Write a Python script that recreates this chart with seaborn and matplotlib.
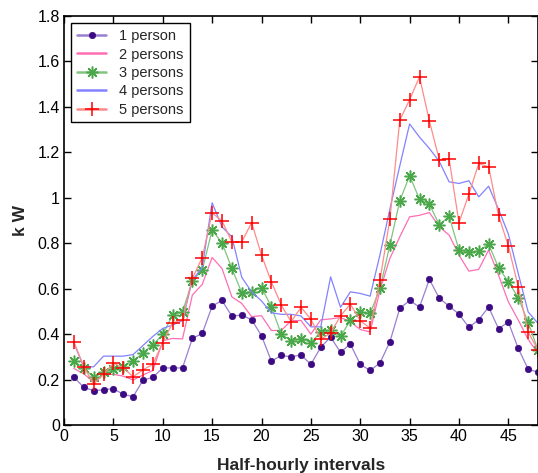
import matplotlib
matplotlib.use("Agg")
import matplotlib.pyplot as plt
import seaborn as sns
import numpy as np
import pandas as pd
from matplotlib.ticker import FuncFormatter

intervals = list(range(1, 49))

one_person = [0.21, 0.166, 0.151, 0.155, 0.16, 0.135, 0.125, 0.197, 0.21, 0.251, 0.251, 0.251,
              0.381, 0.403, 0.523, 0.548, 0.479, 0.484, 0.463, 0.393, 0.281, 0.306, 0.300, 0.308,
              0.267, 0.342, 0.387, 0.320, 0.356, 0.267, 0.240, 0.273, 0.366, 0.513, 0.548, 0.519,
              0.641, 0.558, 0.523, 0.488, 0.430, 0.463, 0.519, 0.424, 0.453, 0.337, 0.246, 0.232]

two_persons = [0.249, 0.225, 0.19, 0.222, 0.223, 0.215, 0.198, 0.22, 0.24, 0.371, 0.381, 0.379,
               0.572, 0.619, 0.737, 0.689, 0.564, 0.535, 0.477, 0.481, 0.416, 0.416, 0.459, 0.46,
               0.40, 0.463, 0.467, 0.473, 0.455, 0.42, 0.41, 0.594, 0.733, 0.828, 0.916, 0.923,
               0.935, 0.872, 0.836, 0.748, 0.677, 0.685, 0.77, 0.66, 0.542, 0.462, 0.377, 0.315]

three_persons = [0.281, 0.249, 0.21, 0.232, 0.245, 0.256, 0.281, 0.318, 0.353, 0.399, 0.484, 0.498,
                 0.635, 0.682, 0.858, 0.802, 0.689, 0.582, 0.586, 0.605, 0.52, 0.40, 0.371, 0.38,
                 0.362, 0.41, 0.416, 0.39, 0.46, 0.498, 0.491, 0.601, 0.792, 0.986, 1.098, 0.993,
                 0.972, 0.881, 0.919, 0.770, 0.761, 0.765, 0.796, 0.693, 0.63, 0.561, 0.452, 0.33]

four_persons = [0.36, 0.256, 0.256, 0.303, 0.303, 0.303, 0.31, 0.35, 0.39, 0.425, 0.44, 0.46,
                0.638, 0.693, 0.978, 0.872, 0.828, 0.65, 0.586, 0.546, 0.494, 0.487, 0.487, 0.48,
                0.432, 0.432, 0.652, 0.518, 0.586, 0.579, 0.567, 0.75, 0.95, 1.14, 1.325, 1.267,
                1.217, 1.16, 1.07, 1.063, 1.075, 1.004, 1.051, 0.95, 0.84, 0.667, 0.498, 0.447]

five_persons = [0.366, 0.257, 0.18, 0.223, 0.272, 0.253, 0.212, 0.243, 0.267, 0.363, 0.45, 0.462,
                0.645, 0.737, 0.934, 0.898, 0.806, 0.806, 0.891, 0.748, 0.63, 0.528, 0.454, 0.518,
                0.466, 0.377, 0.405, 0.48, 0.532, 0.459, 0.426, 0.638, 0.906, 1.341, 1.432, 1.532,
                1.338, 1.168, 1.171, 0.890, 1.016, 1.151, 1.136, 0.923, 0.788, 0.608, 0.41, 0.33]

labels = ["1 person", "2 persons", "3 persons", "4 persons", "5 persons"]
x_ticks = [0, 5, 10, 15, 20, 25, 30, 35, 40, 45]
y_ticks = [0, 0.2, 0.4, 0.6, 0.8, 1.0, 1.2, 1.4, 1.6, 1.8]

sns.set_theme(style="ticks")
plt.rcParams['font.family'] = ['Liberation Sans', 'DejaVu Sans']

fig = plt.figure(figsize=(5.38, 4.73), dpi=100)
ax = fig.add_axes([64 / 538, 48 / 473, 474 / 538, 409 / 473])

series = [one_person, two_persons, three_persons, four_persons, five_persons]
styles = [
    dict(color="#9a7fd1", marker="o", markersize=4.6, markerfacecolor="#3c0a82",
         markeredgecolor="#3c0a82", markeredgewidth=0.5),
    dict(color="#ff6eb4", marker=None),
    dict(color="#80c480", marker=(8, 2, 0), markersize=8.5, markerfacecolor="#2e962e",
         markeredgecolor="#4aa84a", markeredgewidth=1.1),
    dict(color="#8282ff", marker=None),
    dict(color="#ff8a8a", marker="+", markersize=10, markeredgecolor="#ff0000",
         markeredgewidth=1.1),
]

for vals, lab, st in zip(series, labels, styles):
    df = pd.DataFrame({"interval": intervals, "kW": vals})
    sns.lineplot(data=df, x="interval", y="kW", ax=ax, label=lab, linewidth=0.9, **st)

ax.set_xlim(0, 48)
ax.set_ylim(0, 1.8)
ax.set_xticks(x_ticks)
ax.set_yticks(y_ticks)
ax.yaxis.set_major_formatter(FuncFormatter(lambda v, p: "%g" % round(v, 1)))
ax.tick_params(direction="in", top=True, right=True, length=5, width=1,
               labelsize=11.5, colors="black", pad=3)
for s in ax.spines.values():
    s.set_visible(True)
    s.set_color("black")
    s.set_linewidth(1.2)

ax.set_xlabel("Half-hourly intervals", fontsize=12.5, fontweight="bold", labelpad=10)
ax.set_ylabel("k W", fontsize=12.5, fontweight="bold", labelpad=7)

leg = ax.legend(loc="upper left", bbox_to_anchor=(0.0, 1.0), fontsize=10.5, frameon=True,
                fancybox=False, edgecolor="black", framealpha=1, handlelength=2.0,
                borderpad=0.4, labelspacing=0.3, handletextpad=0.9, borderaxespad=0.5)
leg.get_frame().set_linewidth(1.0)
for h in leg.get_lines():
    h.set_linewidth(1.8)

fig.savefig("out.png", dpi=100, facecolor="white")
